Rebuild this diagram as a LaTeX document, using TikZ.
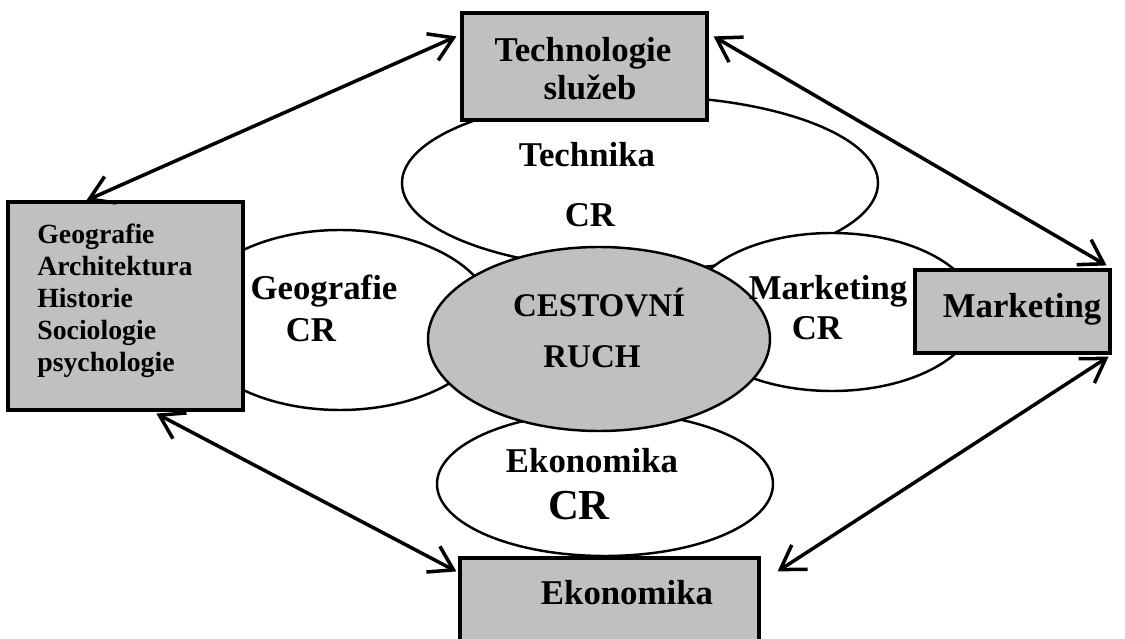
\documentclass[tikz,border=0pt]{standalone}
\usepackage{fontspec}
\setmainfont{Liberation Serif}
\usetikzlibrary{shapes.geometric,arrows.meta}
\definecolor{boxgrey}{RGB}{192,192,192}

\begin{document}
\begin{tikzpicture}[x=0.2mm, y=-0.2mm,
    field/.style={ellipse, draw, fill=white, line width=1.4pt, inner sep=0pt},
    discipline/.style={rectangle, draw, fill=boxgrey, line width=1.8pt, inner sep=0pt},
    txt/.style={font=\bfseries\fontsize{19.8}{22}\selectfont, anchor=base, inner sep=0pt},
    link/.style={{Straight Barb[length=4.6mm,width=5.8mm]}-{Straight Barb[length=4.6mm,width=5.8mm]}, line width=2pt}]
    \useasboundingbox (0,0) rectangle (1125,639);
    \clip (0,0) rectangle (1125,639);

    % fields round the centre
    \node[field, minimum width=95.2mm, minimum height=34.8mm] (technika) at (640,183) {};
    \node[field, minimum width=61.6mm, minimum height=36mm] (geografie) at (340,320) {};
    \node[field, minimum width=58mm, minimum height=31.6mm] (marketing) at (832,312) {};
    \node[field, minimum width=67.2mm, minimum height=28.8mm] (ekonomika) at (605,484) {};
    \node[field, fill=boxgrey, minimum width=68.4mm, minimum height=36.8mm] (cr) at (599,339) {};

    % outer boxes
    \node[discipline, minimum width=49mm, minimum height=21.4mm] (tech) at (584.5,66.5) {};
    \node[discipline, minimum width=47mm, minimum height=41.6mm] (geo) at (125.5,306) {};
    \node[discipline, minimum width=39mm, minimum height=16.6mm] (mkt) at (1012.5,311.5) {};
    \node[discipline, minimum width=59.8mm, minimum height=22mm] (eko) at (609.5,613) {};

    % texts
    \node[txt] (techA) at (583,62) {Technologie};
    \node[txt] (techB) at (590,100) {služeb};
    \node[txt, anchor=north west, align=left, font=\bfseries\fontsize{15.8}{18.1}\selectfont] (geoT) at (37,224)
        {Geografie\\Architektura\\Historie\\Sociologie\\psychologie};
    \node[txt] (mktT) at (1022,318) {Marketing};
    \node[txt] (ekoT) at (627,605) {Ekonomika};

    \node[txt] (technikaA) at (587,167) {Technika};
    \node[txt] (technikaB) at (590,227) {CR};
    \node[txt] (geografieA) at (324,300) {Geografie};
    \node[txt] (geografieB) at (311,342) {CR};
    \node[txt] (marketingA) at (828,300) {Marketing};
    \node[txt] (marketingB) at (817,340) {CR};
    \node[txt] (ekonomikaA) at (592,473) {Ekonomika};
    \node[txt, font=\bfseries\fontsize{24.3}{28}\selectfont] (ekonomikaB) at (579,520) {CR};
    \node[txt, font=\bfseries\fontsize{18.8}{22}\selectfont] (crA) at (599,317) {CESTOVNÍ};
    \node[txt, font=\bfseries\fontsize{18.8}{22}\selectfont] (crB) at (592,368) {RUCH};

    % links between the boxes
    \draw[link] ([xshift=16mm]geo.north west) -- ([xshift=-0.8mm,yshift=-5mm]tech.north west);
    \draw[link] ([xshift=1mm,yshift=-5mm]tech.north east) -- ([xshift=-1mm,yshift=0.6mm]mkt.north east);
    \draw[link] ([xshift=-0.6mm,yshift=-0.4mm]mkt.south east) -- ([xshift=3.4mm,yshift=-3mm]eko.north east);
    \draw[link] ([xshift=30mm,yshift=-0.4mm]geo.south west) -- ([xshift=-0.4mm,yshift=-3mm]eko.north west);
\end{tikzpicture}
\end{document}
